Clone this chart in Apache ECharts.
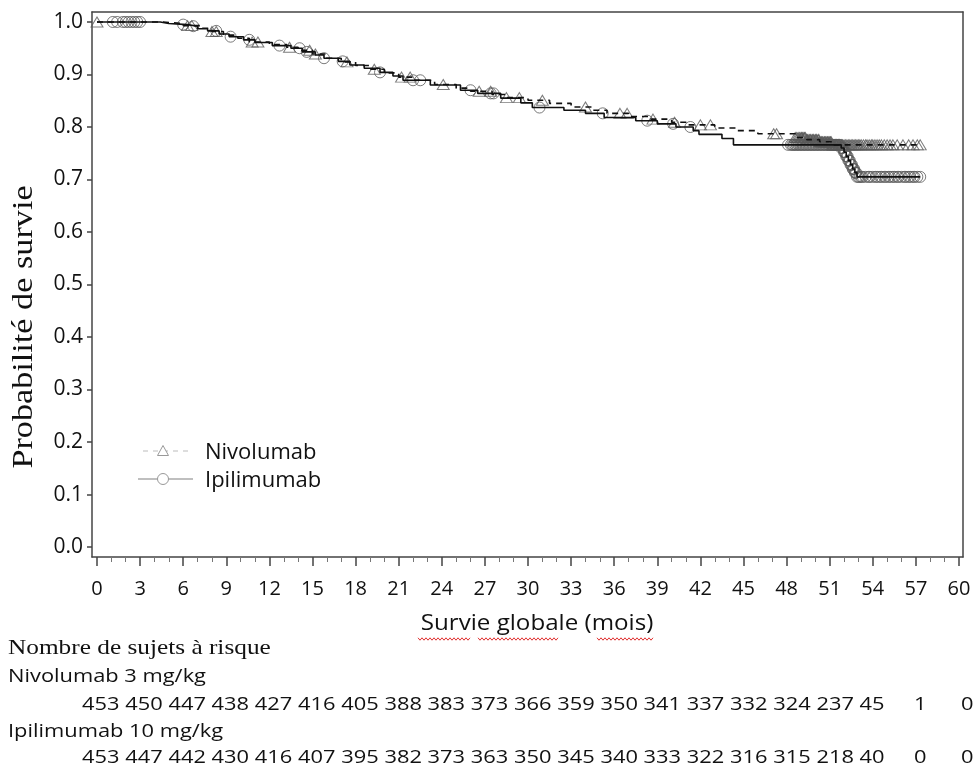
<!DOCTYPE html>
<html>
<head>
<meta charset="utf-8">
<script src="https://cdn.jsdelivr.net/npm/echarts@6/dist/echarts.min.js"></script>
<style>
html,body{margin:0;padding:0;background:#fff;}
#chart{width:974px;height:766px;}
</style>
</head>
<body>
<div id="chart"></div>
<script>
// ---- Data ----
const xTicks = [0,3,6,9,12,15,18,21,24,27,30,33,36,39,42,45,48,51,54,57,60];
const yTicks = [0,0.1,0.2,0.3,0.4,0.5,0.6,0.7,0.8,0.9,1.0];

// Nivolumab Kaplan-Meier steps (time in months, survival probability)
const nivoTimes = [0,4.6,6.0,7.2,8.0,8.8,9.8,10.6,12.0,13.2,14.0,15.0,16.0,17.0,18.0,19.0,20.0,21.0,22.0,23.5,25.0,26.0,27.5,28.5,30.0,31.5,33.0,34.5,35.5,37.0,38.5,40.0,41.0,43.0,44.5,46.0,48.6,49.4,50.3,51.2];
const nivoSurv  = [1.0,0.997,0.993,0.988,0.982,0.975,0.969,0.962,0.957,0.952,0.946,0.939,0.931,0.924,0.917,0.910,0.903,0.895,0.889,0.881,0.874,0.868,0.862,0.856,0.851,0.845,0.838,0.832,0.826,0.820,0.815,0.809,0.804,0.798,0.793,0.787,0.780,0.776,0.772,0.766];
const nivoEnd = 57.3;
const nivoCensor = [0,6.3,6.6,8.0,8.3,10.8,11.2,13.4,14.8,15.2,17.4,19.3,21.2,21.8,24.1,26.6,27.4,28.5,29.4,31.0,34.0,36.4,36.9,38.7,40.2,42.0,42.7,47.1,47.3,
  48.6,48.7,48.8,48.9,49.0,49.05,49.1,49.2,49.25,49.3,49.4,49.45,49.5,49.6,49.65,49.7,49.8,49.85,49.9,50.0,50.05,50.1,50.2,50.25,50.3,50.4,50.45,50.5,50.6,50.65,50.7,50.8,50.85,50.9,51.0,51.05,51.1,51.2,51.25,51.3,51.4,51.45,51.5,51.6,51.65,51.7,51.8,51.85,51.9,52.0,52.1,52.2,52.3,52.4,52.5,52.6,52.7,52.8,52.9,53.0,53.1,53.2,53.35,53.5,53.6,53.75,53.9,54.0,54.15,54.3,54.45,54.6,54.8,55.0,55.2,55.4,55.7,56.1,56.5,56.8,57.1,57.3];

// Ipilimumab Kaplan-Meier steps
const ipiTimes = [0,4.4,5.0,6.3,7.0,7.7,8.5,9.2,10.2,11.0,12.2,13.5,14.3,15.2,15.8,16.8,17.6,18.6,19.7,20.6,21.3,23.2,25.3,26.5,28.1,29.5,30.3,32.5,34.0,35.3,37.5,39.0,40.3,41.5,41.9,43.5,44.3,51.8,52.0,52.15,52.3,52.45,52.6,52.75,52.9];
const ipiSurv  = [1.0,0.997,0.995,0.992,0.987,0.983,0.977,0.972,0.966,0.961,0.955,0.950,0.943,0.937,0.931,0.925,0.918,0.912,0.904,0.897,0.889,0.880,0.870,0.864,0.855,0.846,0.837,0.832,0.826,0.818,0.812,0.806,0.800,0.793,0.786,0.778,0.766,0.760,0.752,0.744,0.736,0.728,0.720,0.713,0.705];
const ipiEnd = 57.3;
const ipiCensor = [1.1,1.4,1.8,2.0,2.2,2.4,2.6,2.8,3.0,6.0,6.7,8.3,9.3,10.6,12.7,14.1,14.6,15.8,17.1,19.7,22.0,22.5,26.0,27.4,27.6,30.8,35.2,38.3,40.1,41.3,
  48.1,48.3,48.4,48.5,48.6,48.7,48.8,48.9,49.0,49.1,49.2,49.3,49.4,49.5,49.6,49.7,49.8,49.9,50.0,50.1,50.2,50.3,50.4,50.5,50.6,50.7,50.8,50.9,51.0,51.1,51.2,51.3,51.4,51.5,51.6,51.7,51.8,51.9,
  52.0,52.05,52.1,52.15,52.2,52.25,52.3,52.35,52.4,52.45,52.5,52.55,52.6,52.65,52.7,52.75,52.8,52.85,52.9,
  53.0,53.1,53.2,53.3,53.5,53.7,53.8,54.0,54.2,54.3,54.5,54.6,54.8,54.9,55.1,55.2,55.4,55.5,55.7,55.8,56.0,56.2,56.3,56.5,56.6,56.8,56.9,57.1,57.3];

// Numbers at risk
const riskTitle = 'Nombre de sujets à risque';
const nivoLabel = 'Nivolumab 3 mg/kg';
const ipiLabel = 'Ipilimumab 10 mg/kg';
const riskNivo = [453,450,447,438,427,416,405,388,383,373,366,359,350,341,337,332,324,237,45,1,0];
const riskIpi  = [453,447,442,430,416,407,395,382,373,363,350,345,340,333,322,316,315,218,40,0,0];
const legendNames = ['Nivolumab','Ipilimumab'];
const xTitle = 'Survie globale (mois)';
const yTitle = 'Probabilité de survie';

// ---- Helpers ----
function kmLine(times, surv, end){
  const d = times.map((t,i)=>[t, surv[i]]);
  d.push([end, surv[surv.length-1]]);
  return d;
}
function survAt(times, surv, t){
  let s = surv[0];
  for (let i=0;i<times.length;i++){ if (times[i] <= t) s = surv[i]; else break; }
  return s;
}
function censorPts(times, surv, cens){
  return cens.map(t => [t, survAt(times, surv, t)]);
}
// minor ticks: every month that is not a labelled tick
const xMinor = [];
for (let m = xTicks[0]; m <= xTicks[xTicks.length-1]; m++) { if (xTicks.indexOf(m) < 0) xMinor.push(m); }

const chart = echarts.init(document.getElementById('chart'), null, {renderer:'canvas'});

const FONT = '"Open Sans", "DejaVu Sans", sans-serif';
const SERIF = '"Liberation Serif", "DejaVu Serif", serif';
const INK = '#111';

// axis extents slightly beyond the tick range (frame sits outside 0 and 60 / 0.0 and 1.0)
const X_MIN = -0.348, X_MAX = 60.278, Y_MIN = -0.019, Y_MAX = 1.019;

// ---- Graphic: legend, titles, risk table ----
const graphics = [];

// legend
graphics.push({type:'line', shape:{x1:143,y1:451,x2:193,y2:451}, style:{stroke:'#bbb', lineWidth:1, lineDash:[5,5]}});
graphics.push({type:'polygon', shape:{points:[[163,445.5],[168.5,455.5],[157.5,455.5]]}, style:{fill:'#fff', stroke:'#999', lineWidth:1}});
graphics.push({type:'text', x:205, y:453, style:{text:legendNames[0], font:'22px '+FONT, fill:INK, align:'left', verticalAlign:'middle'}});
graphics.push({type:'line', shape:{x1:138,y1:479,x2:193,y2:479}, style:{stroke:'#aaa', lineWidth:1.5}});
graphics.push({type:'circle', shape:{cx:163,cy:479,r:5.5}, style:{fill:'#fff', stroke:'#999', lineWidth:1}});
graphics.push({type:'text', x:205, y:481, style:{text:legendNames[1], font:'22px '+FONT, fill:INK, align:'left', verticalAlign:'middle'}});

// y title
graphics.push({type:'text', x:24, y:327, rotation:Math.PI/2, scaleX:1.18,
  style:{text:yTitle, font:'29px '+SERIF, fill:INK, align:'center', verticalAlign:'middle'}});
// x title
graphics.push({type:'text', x:537, y:624, scaleX:1.15,
  style:{text:xTitle, font:'21px '+FONT, fill:INK, align:'center', verticalAlign:'middle'}});
// red spell-check squiggles under the x title
function squiggle(x0, x1, y){
  const pts = [];
  let up = true;
  for (let x=x0; x<=x1; x+=2){ pts.push([x, y + (up? -1.2 : 1.2)]); up = !up; }
  return {type:'polyline', shape:{points:pts}, style:{stroke:'#e03030', lineWidth:1, fill:null}};
}
graphics.push(squiggle(418, 470, 639));
graphics.push(squiggle(478, 558, 639));
graphics.push(squiggle(597, 653, 639));

// risk table
graphics.push({type:'text', x:8, y:648, scaleX:1.15,
  style:{text:riskTitle, font:'22px '+SERIF, fill:INK, align:'left', verticalAlign:'middle'}});
graphics.push({type:'text', x:8, y:677, scaleX:1.15,
  style:{text:nivoLabel, font:'19px '+FONT, fill:INK, align:'left', verticalAlign:'middle'}});
graphics.push({type:'text', x:8, y:732, scaleX:1.15,
  style:{text:ipiLabel, font:'19px '+FONT, fill:INK, align:'left', verticalAlign:'middle'}});
function riskRow(vals, y){
  vals.forEach((v,i)=>{
    let x;
    if (i <= 18) x = 82 + 43.2*i;
    else if (i === 19) x = 914;
    else x = 961;
    graphics.push({type:'text', x:x, y:y, scaleX:1.15,
      style:{text:String(v), font:'19px '+FONT, fill:INK, align:'left', verticalAlign:'middle'}});
  });
}
riskRow(riskNivo, 705);
riskRow(riskIpi, 758);

const frameLine = {show:true, onZero:false, lineStyle:{color:'#444', width:1.5}};

const option = {
  animation:false,
  backgroundColor:'#fff',
  grid:{left:92, right:11, top:12, bottom:209, containLabel:false},
  xAxis:[
    { // main bottom axis with labels and major ticks
      type:'value', min:X_MIN, max:X_MAX, position:'bottom',
      axisLine:frameLine,
      axisTick:{show:true, customValues:xTicks, length:9, lineStyle:{color:'#444', width:1.5}},
      axisLabel:{customValues:xTicks, margin:22, fontFamily:FONT, fontSize:20, color:INK},
      splitLine:{show:false}
    },
    { // minor ticks
      type:'value', min:X_MIN, max:X_MAX, position:'bottom',
      axisLine:{show:false, onZero:false},
      axisTick:{show:true, customValues:xMinor, length:5, lineStyle:{color:'#777', width:1}},
      axisLabel:{show:false}, splitLine:{show:false}
    },
    { // top frame
      type:'value', min:X_MIN, max:X_MAX, position:'top',
      axisLine:frameLine, axisTick:{show:false}, axisLabel:{show:false}, splitLine:{show:false}
    }
  ],
  yAxis:[
    {
      type:'value', min:Y_MIN, max:Y_MAX, position:'left',
      axisLine:frameLine,
      axisTick:{show:true, customValues:yTicks, length:5, lineStyle:{color:'#444', width:1.5}},
      axisLabel:{customValues:yTicks, margin:9, fontFamily:FONT, fontSize:21, color:INK, formatter:v=>Number(v).toFixed(1)},
      splitLine:{show:false}
    },
    { // right frame
      type:'value', min:Y_MIN, max:Y_MAX, position:'right',
      axisLine:frameLine, axisTick:{show:false}, axisLabel:{show:false}, splitLine:{show:false}
    }
  ],
  series:[
    {name:'Nivolumab censure', type:'scatter', clip:false, z:2, symbol:'triangle', symbolSize:[12,10],
      data:censorPts(nivoTimes, nivoSurv, nivoCensor),
      itemStyle:{color:'rgba(0,0,0,0)', borderColor:'#5a5a5a', borderWidth:1}},
    {name:'Ipilimumab censure', type:'scatter', clip:false, z:2, symbol:'circle', symbolSize:11,
      data:censorPts(ipiTimes, ipiSurv, ipiCensor),
      itemStyle:{color:'rgba(0,0,0,0)', borderColor:'#5a5a5a', borderWidth:1}},
    {name:legendNames[0], type:'line', step:'end', clip:false, z:3, symbol:'none',
      data:kmLine(nivoTimes, nivoSurv, nivoEnd),
      lineStyle:{color:'#111', width:1.6, type:[6,5]}},
    {name:legendNames[1], type:'line', step:'end', clip:false, z:3, symbol:'none',
      data:kmLine(ipiTimes, ipiSurv, ipiEnd),
      lineStyle:{color:'#111', width:1.6}}
  ],
  graphic:{elements:graphics}
};
chart.setOption(option);
</script>
</body>
</html>
